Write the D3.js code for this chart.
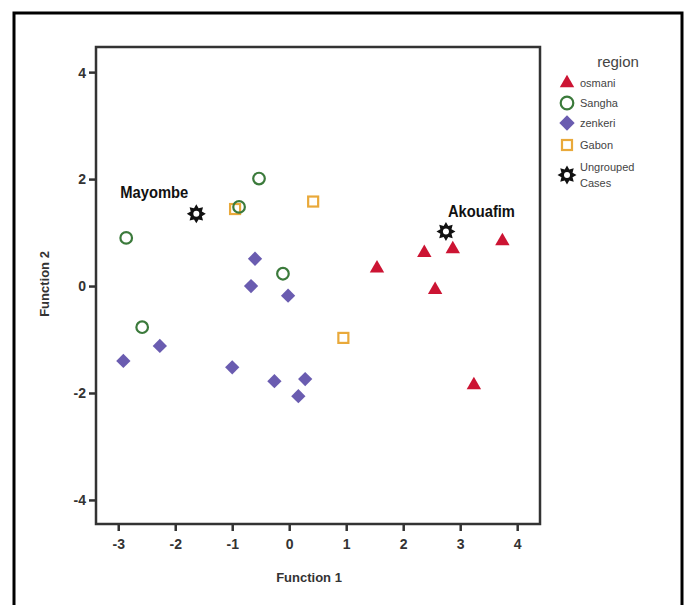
<!DOCTYPE html>
<html>
<head>
<meta charset="utf-8">
<script src="https://cdn.jsdelivr.net/npm/d3@7"></script>
<style>
html,body{margin:0;padding:0;background:#fff;}
svg{display:block;}
</style>
</head>
<body>
<svg id="chart" width="686" height="605"></svg>
<script>
// ---- data ----
const regions = ["osmani", "Sangha", "zenkeri", "Gabon", "Ungrouped Cases"];
const osmaniX = [1.54, 2.37, 2.87, 3.74, 2.56, 3.24];
const osmaniY = [0.33, 0.62, 0.69, 0.84, -0.07, -1.85];
const sanghaX = [-0.53, -0.88, -2.86, -0.11, -2.58];
const sanghaY = [2.01, 1.48, 0.90, 0.23, -0.77];
const zenkeriX = [-0.60, -0.67, -0.02, -2.27, -2.91, -1.00, -0.26, 0.28, 0.16];
const zenkeriY = [0.51, 0.00, -0.18, -1.12, -1.40, -1.52, -1.78, -1.74, -2.06];
const gabonX = [-0.95, 0.42, 0.95];
const gabonY = [1.44, 1.58, -0.97];
const ungroupedNames = ["Mayombe", "Akouafim"];
const ungroupedX = [-1.63, 2.75];
const ungroupedY = [1.35, 1.02];
const xTicks = [-3, -2, -1, 0, 1, 2, 3, 4];
const yTicks = [-4, -2, 0, 2, 4];

// ---- layout ----
const svg = d3.select("#chart");
const L = 96, T = 47, R = 540, B = 524;
const x = d3.scaleLinear().domain([-3.39, 4.40]).range([L, R]);
const y = d3.scaleLinear().domain([-4.45, 4.47]).range([B, T]);
const colors = {osmani: "#cc1433", Sangha: "#3b7a3b", zenkeri: "#6a5cb0", Gabon: "#e9a93a"};

// outer border
svg.append("rect").attr("x", 14).attr("y", 13).attr("width", 668).attr("height", 610)
  .attr("fill", "none").attr("stroke", "#000").attr("stroke-width", 3);

// axes
const axisColor = "#333";
const fmt = d => String(d);
const xAxis = svg.append("g").attr("transform", `translate(0,${B})`)
  .call(d3.axisBottom(x).tickValues(xTicks).tickSize(7).tickPadding(8).tickFormat(fmt));
const yAxis = svg.append("g").attr("transform", `translate(${L},0)`)
  .call(d3.axisLeft(y).tickValues(yTicks).tickSize(7).tickPadding(3).tickFormat(fmt));
[xAxis, yAxis].forEach(g => {
  g.select(".domain").remove();
  g.selectAll(".tick line").attr("stroke", axisColor).attr("stroke-width", 2.5);
  g.selectAll(".tick text").attr("fill", "#333").style("font-family", "Liberation Sans, Arial, sans-serif")
    .style("font-size", "14px").style("font-weight", "bold");
});
yAxis.selectAll(".tick text").attr("dy", "0.35em");

// frame
svg.append("rect").attr("x", L).attr("y", T).attr("width", R - L).attr("height", B - T)
  .attr("fill", "none").attr("stroke", axisColor).attr("stroke-width", 2.5);

// axis titles
svg.append("text").attr("x", 309).attr("y", 582).attr("text-anchor", "middle")
  .style("font-family", "Liberation Sans, Arial, sans-serif").style("font-size", "13px")
  .style("font-weight", "bold").attr("fill", "#333").text("Function 1");
svg.append("text").attr("transform", "translate(49,284) rotate(-90)").attr("text-anchor", "middle")
  .style("font-family", "Liberation Sans, Arial, sans-serif").style("font-size", "13px")
  .style("font-weight", "bold").attr("fill", "#333").text("Function 2");

// star (ungrouped) symbol
const starOuter = d3.range(16).map(i => [i * Math.PI / 8, i % 2 === 0 ? 9.5 : 6]);
const starPath = d3.lineRadial().curve(d3.curveLinearClosed)(starOuter);
function drawStar(g, cx, cy) {
  const s = g.append("g").attr("transform", `translate(${cx},${cy})`);
  s.append("path").attr("d", starPath).attr("fill", "#111");
  s.append("circle").attr("r", 3).attr("fill", "#fff");
}

const plot = svg.append("g");
// Gabon squares
plot.selectAll(".gab").data(gabonX).join("rect").attr("class", "gab")
  .attr("x", (d, i) => x(d) - 5).attr("y", (d, i) => y(gabonY[i]) - 5)
  .attr("width", 10).attr("height", 10).attr("fill", "none")
  .attr("stroke", colors.Gabon).attr("stroke-width", 2.2);
// Sangha circles
plot.selectAll(".san").data(sanghaX).join("circle").attr("class", "san")
  .attr("cx", d => x(d)).attr("cy", (d, i) => y(sanghaY[i])).attr("r", 5.8)
  .attr("fill", "none").attr("stroke", colors.Sangha).attr("stroke-width", 2.2);
// zenkeri diamonds
const diamond = d3.symbol().type(d3.symbolDiamond2).size(130)();
plot.selectAll(".zen").data(zenkeriX).join("path").attr("class", "zen")
  .attr("d", diamond).attr("transform", (d, i) => `translate(${x(d)},${y(zenkeriY[i])})`)
  .attr("fill", colors.zenkeri);
// osmani triangles
const tri = d3.symbol().type(d3.symbolTriangle).size(90)();
plot.selectAll(".osm").data(osmaniX).join("path").attr("class", "osm")
  .attr("d", tri).attr("transform", (d, i) => `translate(${x(d)},${y(osmaniY[i])})`)
  .attr("fill", colors.osmani);
// ungrouped stars and labels
ungroupedX.forEach((d, i) => {
  drawStar(plot, x(d), y(ungroupedY[i]));
});
const labelStyle = t => t.style("font-family", "Liberation Sans Narrow, Arial Narrow, Liberation Sans, sans-serif")
  .style("font-size", "16px").style("font-weight", "bold").attr("fill", "#111");
labelStyle(plot.append("text").attr("x", x(ungroupedX[0]) - 76).attr("y", y(ungroupedY[0]) - 16)
  .attr("textLength", 68).attr("lengthAdjust", "spacingAndGlyphs").text(ungroupedNames[0]));
labelStyle(plot.append("text").attr("x", x(ungroupedX[1]) + 2).attr("y", y(ungroupedY[1]) - 14)
  .attr("textLength", 67).attr("lengthAdjust", "spacingAndGlyphs").text(ungroupedNames[1]));

// legend
const lg = svg.append("g");
lg.append("text").attr("x", 618).attr("y", 67).attr("text-anchor", "middle")
  .style("font-family", "Liberation Sans, Arial, sans-serif").style("font-size", "15px")
  .attr("fill", "#444").text("region");
const legendY = [83, 103, 123, 145, 175];
const lx = 567;
lg.append("path").attr("d", d3.symbol().type(d3.symbolTriangle).size(90)())
  .attr("transform", `translate(${lx},${legendY[0]})`).attr("fill", colors.osmani);
lg.append("circle").attr("cx", lx).attr("cy", legendY[1]).attr("r", 6.3)
  .attr("fill", "none").attr("stroke", colors.Sangha).attr("stroke-width", 2.2);
lg.append("path").attr("d", d3.symbol().type(d3.symbolDiamond2).size(150)())
  .attr("transform", `translate(${lx},${legendY[2]})`).attr("fill", colors.zenkeri);
lg.append("rect").attr("x", lx - 5).attr("y", legendY[3] - 5).attr("width", 10).attr("height", 10)
  .attr("fill", "none").attr("stroke", colors.Gabon).attr("stroke-width", 2.2);
drawStar(lg, lx, legendY[4]);
const legText = (t, yy) => lg.append("text").attr("x", 580).attr("y", yy).attr("dy", "0.35em")
  .style("font-family", "Liberation Sans, Arial, sans-serif").style("font-size", "11px")
  .attr("fill", "#444").text(t);
legText(regions[0], legendY[0]);
legText(regions[1], legendY[1]);
legText(regions[2], legendY[2]);
legText(regions[3], legendY[3]);
legText("Ungrouped", 167);
legText("Cases", 183);
</script>
</body>
</html>
